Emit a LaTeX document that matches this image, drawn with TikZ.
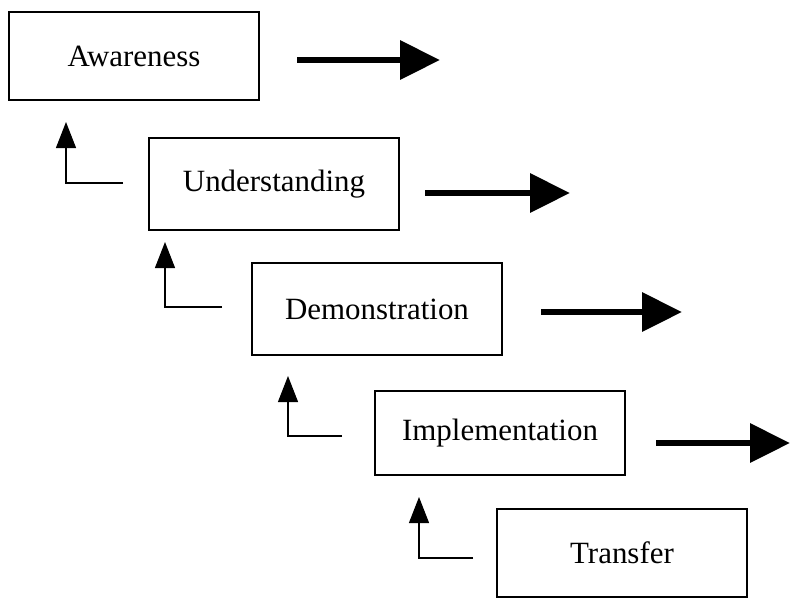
\documentclass[tikz,border=0pt]{standalone}
\usepackage{fontspec}
\setmainfont{Liberation Serif}
\usepackage{tikz}
\usetikzlibrary{arrows.meta, calc}

\begin{document}
\begin{tikzpicture}[
		stage/.style={draw, line width=1pt, minimum width=6.25cm, minimum height=2.2cm,
			inner sep=0pt, font=\fontsize{22}{26}\selectfont},
		forward/.style={line width=4.6pt, -{Triangle[length=1cm, width=.95cm]}},
		back/.style={line width=.8pt, -{Triangle[length=.65cm, width=.5cm]}}]
			
			\useasboundingbox (0,0) rectangle (19.75,-15.025);
			
			\node[stage, text width=6.25cm, align=center] (aware) at (3.35,-1.4) {Awareness\hspace*{.35cm}};
			\node[stage, minimum height=2.3cm] (under) at (6.85,-4.6) {Understanding};
			\node[stage, minimum height=2.3cm] (demo) at (9.425,-7.725) {Demonstration};
			\node[stage, minimum height=2.1cm] (impl) at (12.5,-10.825) {Implementation};
			\node[stage] (trans) at (15.55,-13.825) {Transfer};
			
			% forward arrows
			\coordinate (aware s) at (7.425,-1.5);   \coordinate (aware e) at (11,-1.5);
			\coordinate (under s) at (10.625,-4.825); \coordinate (under e) at (14.25,-4.825);
			\coordinate (demo s) at (13.525,-7.8);    \coordinate (demo e) at (17.05,-7.8);
			\coordinate (impl s) at (16.4,-11.075);   \coordinate (impl e) at (19.75,-11.075);
			
			\foreach \n in {aware, under, demo, impl}
				\draw[forward] (\n\space s) -- (\n\space e);
			
			% feedback arrows
			\coordinate (fb1) at (3.075,-4.575);  \coordinate (tip1) at (1.65,-3.05);
			\coordinate (fb2) at (5.55,-7.675);   \coordinate (tip2) at (4.125,-6.05);
			\coordinate (fb3) at (8.55,-10.9);    \coordinate (tip3) at (7.2,-9.4);
			\coordinate (fb4) at (11.825,-13.95); \coordinate (tip4) at (10.475,-12.425);
			
			\foreach \i in {1,...,4}
				\draw[back] (fb\i) -| (tip\i);
			
\end{tikzpicture}
\end{document}
